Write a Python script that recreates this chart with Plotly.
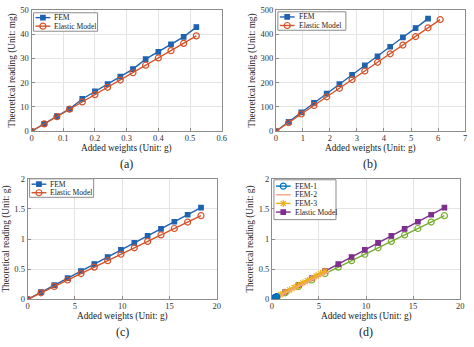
import plotly.graph_objects as go

# ---- data ----
# (a) small-range calibration
a_w = [0, 0.04, 0.08, 0.12, 0.16, 0.20, 0.24, 0.28, 0.32, 0.36, 0.40, 0.44, 0.48, 0.52]
a_fem = [0, 3.1, 6.2, 9.2, 13.3, 16.4, 19.4, 22.5, 25.6, 29.7, 32.7, 35.8, 38.9, 42.9]
a_ela = [0, 3.0, 6.0, 9.1, 12.1, 15.1, 18.1, 21.1, 24.1, 27.2, 30.2, 33.2, 36.2, 39.3]

# (b) medium-range calibration
b_w_fem = [0, 0.47, 0.94, 1.41, 1.88, 2.35, 2.82, 3.29, 3.76, 4.23, 4.70, 5.17, 5.63]
b_fem = [0, 39, 78, 117, 155, 194, 232, 271, 309, 348, 387, 425, 464]
b_w_ela = [0, 0.47, 0.94, 1.41, 1.88, 2.35, 2.82, 3.29, 3.76, 4.23, 4.70, 5.17, 5.63, 6.08]
b_ela = [0, 35, 71, 106, 142, 177, 213, 248, 284, 319, 355, 390, 426, 460]

# (c) large-range calibration
c_w = [0, 1.41, 2.82, 4.23, 5.64, 7.05, 8.46, 9.87, 11.28, 12.69, 14.10, 15.51, 16.92, 18.33]
c_fem = [0, 0.117, 0.234, 0.351, 0.468, 0.585, 0.702, 0.819, 0.936, 1.053, 1.170, 1.287, 1.404, 1.521]
c_ela = [0, 0.107, 0.214, 0.320, 0.427, 0.534, 0.641, 0.748, 0.855, 0.961, 1.068, 1.175, 1.282, 1.389]

# (d) combined, readings in g
d_fem1_w = a_w
d_fem1 = [v / 1000 for v in a_fem]
d_fem2_w = b_w_ela
d_fem2 = [v / 1000 for v in b_ela]
d_fem3_w = b_w_fem
d_fem3 = [v / 1000 for v in b_fem]
d_model_w = c_w
d_model = c_fem
d_model2 = c_ela

BLUE = "#1f63b0"
RED = "#d4532a"
C_FEM1 = "#0072bd"
C_FEM2 = "#f2a488"
C_FEM3 = "#edb120"
PURPLE = "#7e2f8e"
GREEN = "#77ac30"
FONT = "Liberation Serif, Times New Roman, serif"
FRAME = "#8c8c8c"

W, H = 474, 347

fig = go.Figure()

STYLES = {
    "sq": dict(symbol="square", size=4.5),
    "ci": dict(symbol="circle-open", size=6),
    "as": dict(symbol="asterisk-open", size=6),
    "none": None,
}


def series(x, y, color, style, xa, ya):
    st = STYLES[style]
    mode = "lines" if st is None else "lines+markers"
    marker = {}
    if st is not None:
        marker = dict(symbol=st["symbol"], size=st["size"], color=color,
                      line=dict(color=color, width=1.2))
    fig.add_trace(go.Scatter(x=x, y=y, mode=mode, xaxis=xa, yaxis=ya, showlegend=False,
                             line=dict(color=color, width=1.4), marker=marker))


series(a_w, a_fem, BLUE, "sq", "x", "y")
series(a_w, a_ela, RED, "ci", "x", "y")
series(b_w_fem, b_fem, BLUE, "sq", "x2", "y2")
series(b_w_ela, b_ela, RED, "ci", "x2", "y2")
series(c_w, c_fem, BLUE, "sq", "x3", "y3")
series(c_w, c_ela, RED, "ci", "x3", "y3")
series(d_model_w, d_model2, GREEN, "ci", "x4", "y4")
series(d_model_w, d_model, PURPLE, "sq", "x4", "y4")
series(d_fem3_w, d_fem3, C_FEM3, "as", "x4", "y4")
series(d_fem2_w, d_fem2, C_FEM2, "none", "x4", "y4")
series(d_fem1_w, d_fem1, C_FEM1, "ci", "x4", "y4")


def fx(p):
    return p / W


def fy(p):
    return 1 - p / H


panels = {
    "": dict(x=(30, 223), y=(5, 130), xr=[0, 0.6], xd=0.1, yr=[0, 50], yd=10, yt="Theoretical reading (Unit: mg)"),
    "2": dict(x=(278, 470), y=(5, 130), xr=[0, 7], xd=1, yr=[0, 500], yd=100, yt="Theoretical reading (Unit: mg)"),
    "3": dict(x=(26, 218), y=(179, 303), xr=[0, 20], xd=5, yr=[0, 2], yd=0.5, yt="Theoretical reading (Unit: g)"),
    "4": dict(x=(274, 465), y=(179, 303), xr=[0, 20], xd=5, yr=[0, 2], yd=0.5, yt="Theoretical reading (Unit: g)"),
}

axis_common = dict(
    showline=True, linecolor=FRAME, linewidth=1, mirror=True,
    showgrid=True, gridcolor="#e4e4e4", gridwidth=1,
    ticks="inside", ticklen=3, tickcolor=FRAME,
    zeroline=False, tickfont=dict(family=FONT, size=8.5, color="#333"),
)

layout = {}
captions = ["(a)", "(b)", "(c)", "(d)"]
for i, (k, p) in enumerate(panels.items()):
    layout["xaxis" + k] = dict(
        axis_common, domain=[fx(p["x"][0]), fx(p["x"][1])], range=p["xr"], dtick=p["xd"],
        anchor="y" + k, ticklabelstandoff=-1,
    )
    layout["yaxis" + k] = dict(
        axis_common, domain=[fy(p["y"][1]), fy(p["y"][0])], range=p["yr"], dtick=p["yd"],
        anchor="x" + k,
        title=dict(text=p["yt"], font=dict(family=FONT, size=9.3, color="#222"), standoff=3),
    )
    cx = (p["x"][0] + p["x"][1]) / 2
    fig.add_annotation(text="Added weights (Unit: g)", x=fx(cx), y=fy(p["y"][1] + 18),
                       xref="paper", yref="paper", showarrow=False,
                       font=dict(family=FONT, size=9.3, color="#222"),
                       xanchor="center", yanchor="middle")
    fig.add_annotation(text=captions[i], x=fx(cx), y=fy(p["y"][1] + 34), xref="paper", yref="paper",
                       showarrow=False, font=dict(family=FONT, size=12, color="#222"),
                       xanchor="center", yanchor="middle")

# pixel-space overlay used for the compact legend boxes
layout["xaxis5"] = dict(domain=[0, 1], range=[0, W], visible=False, fixedrange=True, anchor="y5")
layout["yaxis5"] = dict(domain=[0, 1], range=[H, 0], visible=False, fixedrange=True, anchor="x5")

# legend boxes: (left, top, right, bottom, first row y, row step, entries)
legends = [
    (32, 8, 97, 27, 13.0, 8.8, [("FEM", BLUE, "sq"), ("Elastic Model", RED, "ci")]),
    (280, 7, 349, 26, 12.3, 8.8, [("FEM", BLUE, "sq"), ("Elastic Model", RED, "ci")]),
    (28, 179, 93, 198, 184.5, 8.8, [("FEM", BLUE, "sq"), ("Elastic Model", RED, "ci")]),
    (276, 180, 339, 221, 186.5, 8.9, [("FEM-1", C_FEM1, "ci"), ("FEM-2", C_FEM2, "none"),
                                      ("FEM-3", C_FEM3, "as"), ("Elastic Model", PURPLE, "sq")]),
]
for (l, t, r, b, y0, dy, entries) in legends:
    fig.add_trace(go.Scatter(x=[l, r, r, l, l], y=[t, t, b, b, t], mode="lines", fill="toself",
                             fillcolor="white", line=dict(color=FRAME, width=1),
                             xaxis="x5", yaxis="y5", showlegend=False, hoverinfo="skip"))
    for j, (name, color, style) in enumerate(entries):
        yy = y0 + j * dy
        x1, x2 = l + 2, l + 17
        series([x1, (x1 + x2) / 2, x2], [yy, yy, yy], color, "none", "x5", "y5")
        if STYLES[style] is not None:
            st = STYLES[style]
            fig.add_trace(go.Scatter(x=[(x1 + x2) / 2], y=[yy], mode="markers", xaxis="x5", yaxis="y5",
                                     showlegend=False, hoverinfo="skip",
                                     marker=dict(symbol=st["symbol"], size=st["size"], color=color,
                                                 line=dict(color=color, width=1.2))))
        fig.add_annotation(text=name, x=fx(l + 20), y=fy(yy), xref="paper", yref="paper",
                           xanchor="left", yanchor="middle", showarrow=False, borderpad=0,
                           font=dict(family=FONT, size=7.6, color="#222"))

fig.update_layout(
    width=W, height=H, margin=dict(l=0, r=0, t=0, b=0),
    paper_bgcolor="white", plot_bgcolor="rgba(0,0,0,0)", showlegend=False, **layout,
)

fig.write_html("out.html")
